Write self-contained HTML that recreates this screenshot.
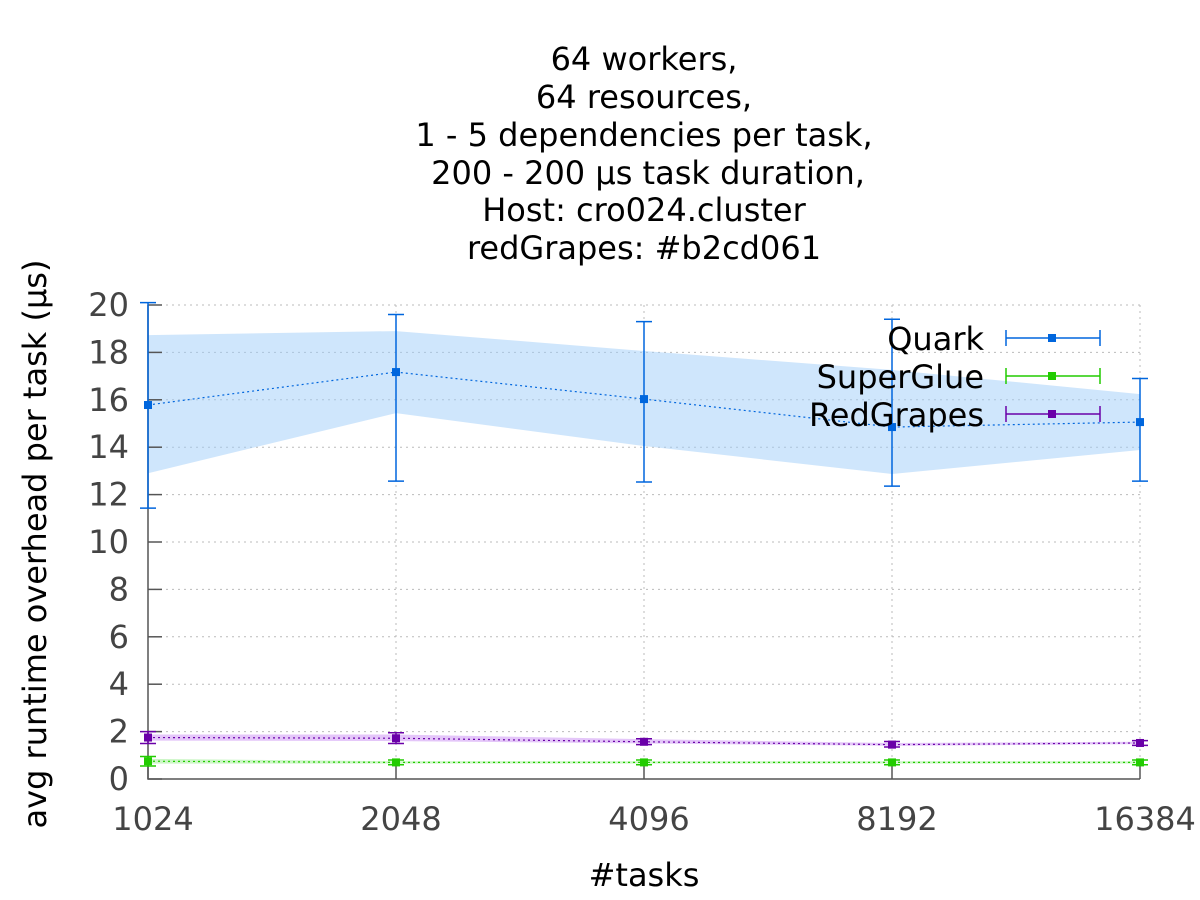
<!DOCTYPE html>
<html><head><meta charset="utf-8">
<style>
html,body{margin:0;padding:0;background:#fff;}
svg{display:block;font-family:"DejaVu Sans","Liberation Sans",sans-serif;}
</style></head>
<body>
<svg id="chart" width="1200" height="900" viewBox="0 0 1200 900" xmlns="http://www.w3.org/2000/svg">
<g font-size="32" text-anchor="middle" fill="#000">
<text x="644" y="70">64 workers,</text>
<text x="644" y="108">64 resources,</text>
<text x="644" y="146">1 - 5 dependencies per task,</text>
<text x="648" y="184">200 - 200 µs task duration,</text>
<text x="644" y="221">Host: cro024.cluster</text>
<text x="644" y="259">redGrapes: #b2cd061</text>
</g>
<g id="grid"></g>
<g id="bands"></g>
<g id="axes"></g>
<g id="series"></g>
<text transform="translate(46,544) rotate(-90)" font-size="32" text-anchor="middle">avg runtime overhead per task (µs)</text>
<text x="644" y="886" font-size="32" text-anchor="middle">#tasks</text>
<g id="legend"></g>
</svg>
<script>
const categories = ["1024","2048","4096","8192","16384"];
const yTicks = [0,2,4,6,8,10,12,14,16,18,20];
const quarkMean = [15.78,17.17,16.03,14.85,15.06];
const quarkErrLo = [11.43,12.57,12.53,12.36,12.57];
const quarkErrHi = [20.1,19.6,19.3,19.4,16.9];
const quarkBandLo = [12.9,15.44,14.05,12.87,13.88];
const quarkBandHi = [18.73,18.9,18.06,17.26,16.24];
const sgMean = [0.75,0.7,0.7,0.7,0.7];
const sgErrLo = [0.55,0.6,0.6,0.6,0.6];
const sgErrHi = [0.95,0.8,0.8,0.8,0.8];
const sgBandLo = [0.65,0.65,0.65,0.65,0.65];
const sgBandHi = [0.85,0.75,0.75,0.75,0.75];
const rgMean = [1.75,1.72,1.57,1.45,1.52];
const rgErrLo = [1.5,1.5,1.45,1.35,1.42];
const rgErrHi = [2.0,1.95,1.7,1.58,1.62];
const rgBandLo = [1.62,1.6,1.5,1.4,1.47];
const rgBandHi = [1.88,1.88,1.68,1.52,1.57];

const X0=148,X1=1140,Y0=779,Y1=305;
const xs=i=>X0+(X1-X0)*i/(categories.length-1);
const ys=v=>Y0-(Y0-Y1)*v/20;
const NS="http://www.w3.org/2000/svg";
function mk(parent,tag,attrs){const e=document.createElementNS(NS,tag);for(const k in attrs)e.setAttribute(k,attrs[k]);parent.appendChild(e);return e;}
const grid=document.getElementById('grid'),axes=document.getElementById('axes'),bands=document.getElementById('bands'),series=document.getElementById('series'),legend=document.getElementById('legend');

yTicks.forEach(t=>{
  const y=ys(t);
  if(t>0){const g=mk(grid,'line',{x1:X0,x2:X1,y1:y,y2:y,stroke:'#bbb','stroke-width':1,'stroke-dasharray':'2,4'});
  
  }
  const tk=mk(axes,'line',{x1:X0,x2:X0+14,y1:y,y2:y,stroke:'#555','stroke-width':1.5});
  
  
  const lb=mk(axes,'text',{x:129,y:y+11,'font-size':32,'text-anchor':'end',fill:'#444'});
  lb.textContent=t;
  
  
});
categories.forEach((c,i)=>{
  const x=xs(i);
  if(i>0){const g=mk(grid,'line',{x1:x,x2:x,y1:Y1,y2:Y0,stroke:'#bbb','stroke-width':1,'stroke-dasharray':'2,4'});
  
  }
  const tk=mk(axes,'line',{x1:x,x2:x,y1:Y0,y2:Y0-14,stroke:'#555','stroke-width':1.5});
  
  
  const lb=mk(axes,'text',{x:x+5,y:830,'font-size':32,'text-anchor':'middle',fill:'#444'});
  lb.textContent=c;
  
  
});
const ax=mk(axes,'path',{d:`M${X0},${Y1}V${Y0}H${X1}`,fill:'none',stroke:'#555','stroke-width':1.5});


const gr=mk(grid,'line',{x1:X0,x2:X1,y1:Y1,y2:Y1,stroke:'#bbb','stroke-width':1,'stroke-dasharray':'2,4'});



function drawSeries(name,color,bandColor,mean,elo,ehi,blo,bhi){
  let d='M'+blo.map((v,i)=>xs(i)+','+ys(bhi[i])).join('L');
  d+='L'+blo.map((v,i)=>xs(i)+','+ys(v)).reverse().join('L')+'Z';
  const b=mk(bands,'path',{d:d,fill:bandColor});
  
  
  const ln=mk(series,'polyline',{points:mean.map((v,i)=>xs(i)+','+ys(v)).join(' '),fill:'none',stroke:color,'stroke-width':1.2,'stroke-dasharray':'2,3'});
  
  
  mean.forEach((v,i)=>{
    const x=xs(i);
    const e=mk(series,'path',{d:`M${x},${ys(elo[i])}V${ys(ehi[i])}M${x-8},${ys(elo[i])}H${x+8}M${x-8},${ys(ehi[i])}H${x+8}`,stroke:color,'stroke-width':1.5,fill:'none'});
    
    
    const p=mk(series,'rect',{x:x-4,y:ys(v)-4,width:8,height:8,fill:color});
    
    
  });
}
drawSeries('quark','#0066dd','rgba(160,205,250,0.5)',quarkMean,quarkErrLo,quarkErrHi,quarkBandLo,quarkBandHi);
drawSeries('superglue','#22cc00','rgba(170,240,160,0.6)',sgMean,sgErrLo,sgErrHi,sgBandLo,sgBandHi);
drawSeries('redgrapes','#6a00a8','rgba(210,160,245,0.6)',rgMean,rgErrLo,rgErrHi,rgBandLo,rgBandHi);

[['Quark','#0066dd',338],['SuperGlue','#22cc00',376],['RedGrapes','#6a00a8',414]].forEach(([n,c,y])=>{
  const g=mk(legend,'g',{});
  
  
  const t=mk(g,'text',{x:984,y:y+12,'font-size':32,'text-anchor':'end',fill:'#000'});
  t.textContent=n;
  mk(g,'path',{d:`M1006,${y}H1100M1006,${y-8}V${y+8}M1100,${y-8}V${y+8}`,stroke:c,'stroke-width':1.5,fill:'none'});
  mk(g,'rect',{x:1048,y:y-4,width:8,height:8,fill:c});
});
</script>
</body></html>
